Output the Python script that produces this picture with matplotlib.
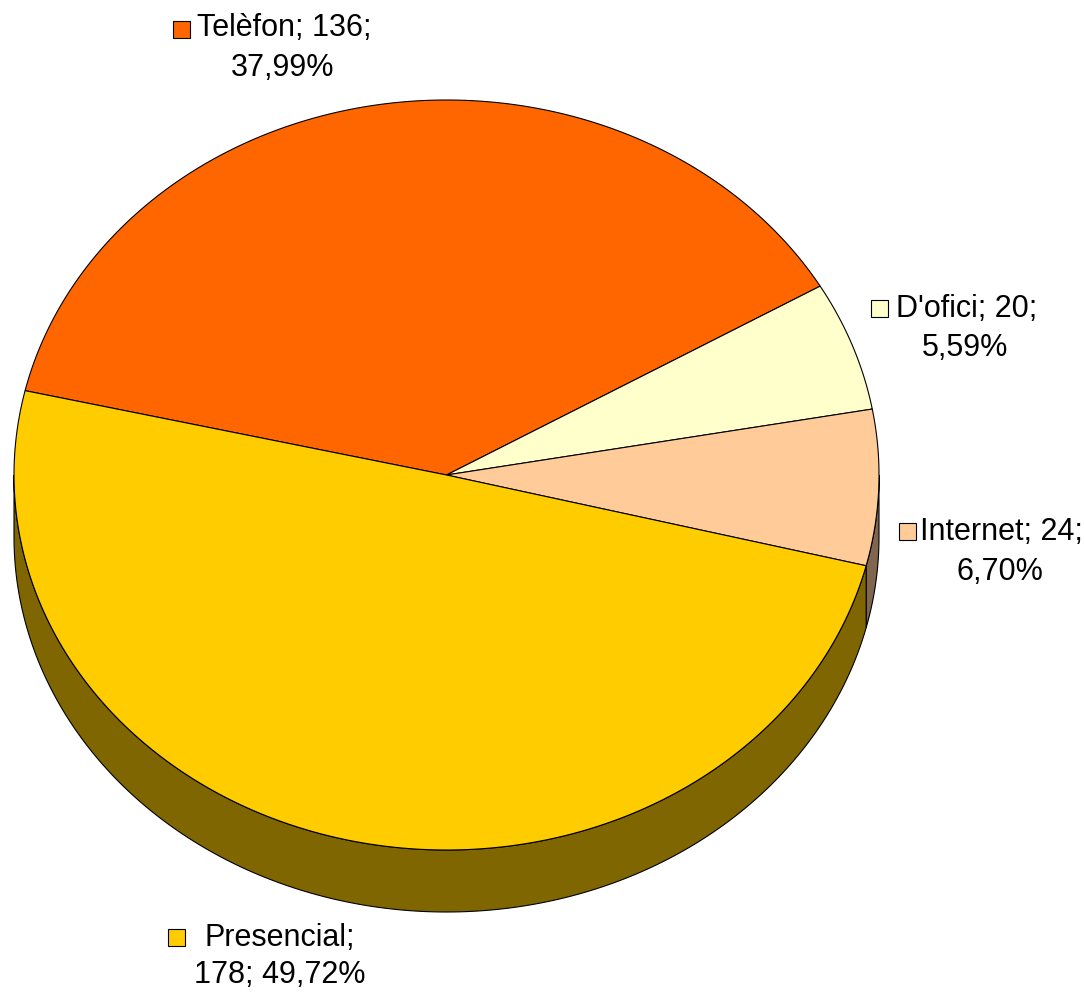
import numpy as np
import matplotlib.pyplot as plt
from matplotlib.patches import Polygon, Rectangle

plt.rcParams['font.family'] = ['Liberation Sans', 'DejaVu Sans']

# ── Dades ─────────────────────────────────────────────────────────────────────
categories = ["Telèfon", "D'ofici", "Internet", "Presencial"]
values     = [136, 20, 24, 178]
colors     = ["#FF6600", "#FFFFCC", "#FFCC99", "#FFCC00"]
side_cols  = ["#803300", "#808066", "#80664D", "#806600"]
label_l1   = ["Telèfon; 136;", "D'ofici; 20;", "Internet; 24;", "Presencial;"]
label_l2   = ["37,99%", "5,59%", "6,70%", "178; 49,72%"]

# geometria del pastís (píxels)
cx, cy, rx, ry, depth = 446.5, 475, 432.5, 375, 62
start = 167.0   # graus, sentit horari

fig = plt.figure(figsize=(10.84, 9.92), dpi=100)
ax = fig.add_axes([0, 0, 1, 1])
ax.set_xlim(0, 1084)
ax.set_ylim(992, 0)
ax.axis("off")


def arc(t1, t2, dy=0, n=200):
    t = np.radians(np.linspace(t1, t2, n))
    return np.column_stack([cx + rx * np.cos(t), cy - ry * np.sin(t) + dy])


vals = np.array(values, dtype=float)
spans = vals / vals.sum() * 360
ends = start - np.cumsum(spans)
begins = ends + spans

# costats (només la meitat frontal, angles entre 180 i 360)
for a_hi, a_lo, sc in zip(begins, ends, side_cols):
    # normalitzar a l'interval de la meitat inferior
    for shift in (0, -360, 360):
        lo, hi = a_lo + shift, a_hi + shift
        s_lo, s_hi = max(lo, -180), min(hi, 0)
        if s_hi > s_lo:
            top = arc(s_lo, s_hi)
            bot = arc(s_hi, s_lo, dy=depth)
            ax.add_patch(Polygon(np.vstack([top, bot]), closed=True,
                                 facecolor=sc, edgecolor="black", lw=0.8, zorder=1))

# cara superior
for a_hi, a_lo, c in zip(begins, ends, colors):
    pts = np.vstack([[cx, cy], arc(a_lo, a_hi)])
    ax.add_patch(Polygon(pts, closed=True, facecolor=c, edgecolor="black",
                         lw=0.8, zorder=2))

# etiquetes: quadrat + text
sq_pos = [(173, 21), (871, 300), (899, 523), (168, 929)]
txt_pos = [((284, 28), (283, 68)), ((967, 309), (965, 348)),
           ((1001, 532), (1000, 572)), ((280, 938), (280, 975))]
for i in range(len(categories)):
    sx, sy = sq_pos[i]
    ax.add_patch(Rectangle((sx, sy), 17, 17, facecolor=colors[i],
                           edgecolor="black", lw=0.8, zorder=3))
    (x1, y1), (x2, y2) = txt_pos[i]
    ax.text(x1, y1, label_l1[i], ha="center", va="center", fontsize=22)
    ax.text(x2, y2, label_l2[i], ha="center", va="center", fontsize=22)

fig.savefig("out.png", dpi=100)
